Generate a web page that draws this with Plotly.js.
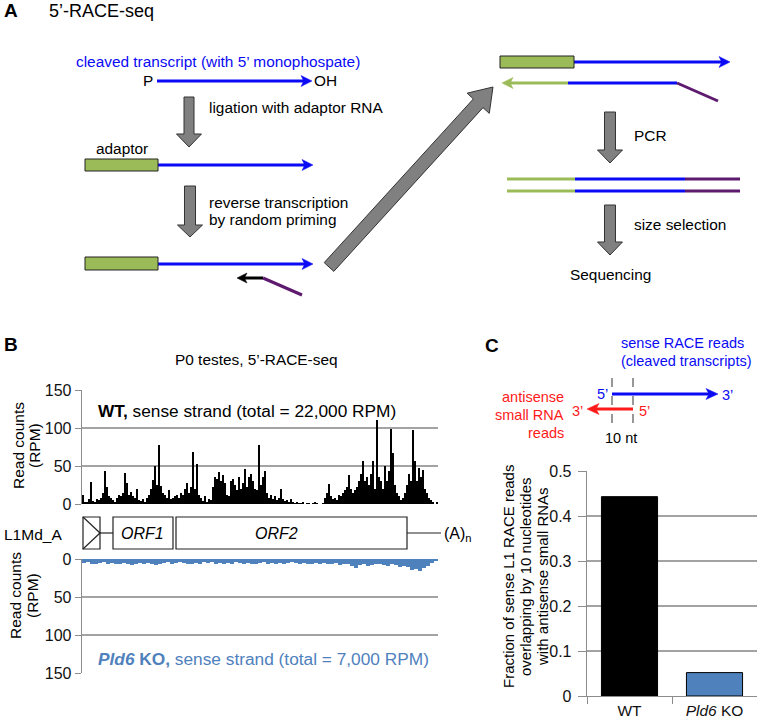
<!DOCTYPE html>
<html><head><meta charset="utf-8">
<script src="https://cdn.plot.ly/plotly-3.0.1.min.js"></script>
<style>html,body{margin:0;padding:0;background:#fff}#chart{width:761px;height:721px}</style>
</head><body><div id="chart"></div>
<script>
// ---- Panel B data: WT 5'-RACE read counts (RPM), sense strand, along L1Md_A ----
const wtCounts = [
 12, 3, 2, 6, 29, 4, 3, 7, 5, 8,
 15, 43, 23, 10, 8, 5, 3, 8, 12, 10,
 15, 41, 27, 12, 16, 10, 8, 20, 5, 4,
 6, 3, 8, 12, 20, 32, 50, 25, 77, 24,
 15, 12, 8, 18, 6, 8, 10, 12, 8, 15,
 12, 20, 28, 15, 22, 68, 20, 52, 12, 8,
 4, 10, 3, 6, 5, 22, 35, 33, 42, 30,
 38, 28, 12, 10, 30, 33, 25, 18, 35, 20,
 28, 46, 22, 36, 40, 30, 20, 18, 77, 25,
 35, 43, 15, 8, 12, 6, 10, 5, 8, 20,
 6, 4, 5, 3, 6, 2, 1, 3, 1, 1,
 2, 0, 1, 1, 0, 1, 2, 1, 0, 0,
 1, 8, 15, 26, 10, 6, 8, 5, 12, 10,
 15, 18, 22, 38, 20, 15, 18, 22, 30, 40,
 57, 30, 35, 25, 40, 57, 20, 111, 35, 30,
 20, 50, 30, 44, 99, 67, 25, 15, 10, 5,
 8, 15, 25, 40, 30, 97, 57, 30, 48, 35,
 45, 20, 15, 8, 5, 2, 0, 3
];
// ---- Panel B data: Pld6 KO read counts (RPM) ----
const koCounts = [
 5, 4, 6, 7, 5, 4, 6, 5, 7, 6,
 5, 7, 8, 6, 5, 6, 5, 7, 8, 6,
 5, 4, 6, 5, 4, 5, 6, 7, 5, 6,
 4, 5, 4, 6, 5, 7, 5, 6, 4, 5,
 6, 5, 7, 6, 5, 4, 6, 5, 7, 5,
 6, 5, 4, 5, 6, 5, 7, 6, 5, 6,
 5, 7, 6, 5, 8, 7, 6, 9, 12, 8,
 7, 9, 8, 6, 7, 8, 9, 7, 8, 10,
 9, 11, 14, 13, 16, 12, 9, 5, 2
];
const countTicks = [0, 50, 100, 150];
// ---- Panel C data ----
const fracCategories = ['WT', 'Pld6 KO'];
const fracTickText = ['WT', '<i>Pld6</i> KO'];
const fracValues = [0.443, 0.052];
const fracColors = ['#000000', '#4F81BD'];
const fracTicks = [0, 0.1, 0.2, 0.3, 0.4, 0.5];

const W = 761, H = 721;
const FONT = 'Arial, "Liberation Sans", sans-serif';
const px = x => x / W, py = y => 1 - y / H;
const shapes = [], ann = [];
const BLUE = '#0A0AF5', GREEN = '#9BBB59', PURPLE = '#5E1A6E', RED = '#FF1A1A', KOBLUE = '#4F81BD';
const FA = 15.4;

function line(x0, y0, x1, y1, color, width, dash) {
  shapes.push({type: 'line', xref: 'paper', yref: 'paper', x0: px(x0), y0: py(y0), x1: px(x1), y1: py(y1),
    line: {color: color, width: width, dash: dash || 'solid'}, layer: 'above'});
}
function poly(pts, fill, lc, lw) {
  const d = pts.map((p, i) => (i ? 'L' : 'M') + px(p[0]).toFixed(5) + ',' + py(p[1]).toFixed(5)).join(' ') + ' Z';
  shapes.push({type: 'path', xref: 'paper', yref: 'paper', path: d, fillcolor: fill,
    line: {color: lc || fill, width: lw === undefined ? 0.5 : lw}, layer: 'above'});
}
function rect(x0, y0, x1, y1, fill, lc, lw) {
  shapes.push({type: 'rect', xref: 'paper', yref: 'paper', x0: px(x0), y0: py(y0), x1: px(x1), y1: py(y1),
    fillcolor: fill, line: {color: lc, width: lw}, layer: 'above'});
}
function arrowH(x0, x1, y, color, w, hl, hw) {
  const dir = Math.sign(x1 - x0);
  line(x0, y, x1 - dir * hl * 0.7, y, color, w);
  poly([[x1, y], [x1 - dir * hl, y - hw / 2], [x1 - dir * hl * 0.75, y], [x1 - dir * hl, y + hw / 2]], color);
}
function blockArrow(x0, y0, x1, y1, sw, hw, hl) {
  const dx = x1 - x0, dy = y1 - y0, L = Math.hypot(dx, dy), ux = dx / L, uy = dy / L, nx = -uy, ny = ux;
  const bx = x1 - ux * hl, by = y1 - uy * hl;
  poly([[x0 + nx * sw / 2, y0 + ny * sw / 2], [bx + nx * sw / 2, by + ny * sw / 2], [bx + nx * hw / 2, by + ny * hw / 2],
        [x1, y1], [bx - nx * hw / 2, by - ny * hw / 2], [bx - nx * sw / 2, by - ny * sw / 2], [x0 - nx * sw / 2, y0 - ny * sw / 2]],
       '#808080', '#333333', 1);
}
function text(x, y, t, size, color, xanchor, extra) {
  ann.push(Object.assign({xref: 'paper', yref: 'paper', x: px(x), y: py(y), text: t, showarrow: false,
    xanchor: xanchor || 'left', yanchor: 'middle', font: {family: FONT, size: size, color: color || '#000'}}, extra || {}));
}

// ---------------- Panel A ----------------
text(2, 11, '<b>A</b>', 19, '#000', 'left');
text(47, 11, '5\u2019-RACE-seq', 18, '#000', 'left');
text(218, 62, 'cleaved transcript (with 5\u2019 monophospate)', FA, BLUE, 'center');
text(148, 81, 'P', FA, '#000', 'center');
arrowH(157, 312, 81, BLUE, 3, 11, 11);
text(312, 81, 'OH', FA, '#000', 'left');
blockArrow(189, 97, 189, 147, 10, 25, 13);
text(207, 108, 'ligation with adaptor RNA', FA, '#000', 'left');
text(122, 148, 'adaptor', FA, '#000', 'center');
arrowH(158, 313, 165, BLUE, 3, 11, 11);
rect(85, 159, 158, 171, GREEN, '#222', 1);
blockArrow(190, 186, 190, 237, 11, 25, 12);
text(207, 202, 'reverse transcription', FA, '#000', 'left');
text(207, 220, 'by random priming', FA, '#000', 'left');
arrowH(158, 313, 264, BLUE, 3, 11, 11);
rect(85, 257, 158, 270, GREEN, '#222', 1);
arrowH(263, 237, 278, '#000', 3, 10, 10);
line(263, 278, 302, 295, PURPLE, 3);
blockArrow(329, 267, 493, 87, 13, 30, 22);
// right column
arrowH(574, 730, 62, BLUE, 3, 11, 11);
rect(500, 56, 574, 68, GREEN, '#222', 1);
arrowH(568, 502, 83, GREEN, 3, 11, 11);
line(568, 83, 677, 83, BLUE, 3);
line(677, 83, 718, 101, PURPLE, 3);
blockArrow(610, 112, 610, 163, 11, 25, 13);
text(632, 135, 'PCR', FA, '#000', 'left');
[179, 191].forEach(function (y) {
  line(507, y, 575, y, GREEN, 3);
  line(575, y, 685, y, BLUE, 3);
  line(685, y, 740, y, PURPLE, 3);
});
blockArrow(610, 205, 610, 255, 11, 25, 13);
text(632, 225, 'size selection', FA, '#000', 'left');
text(610, 274, 'Sequencing', FA, '#000', 'center');

// ---------------- Panel B ----------------
text(2, 344, '<b>B</b>', 19, '#000', 'left');
text(256, 359, 'P0 testes, 5\u2019-RACE-seq', 15.4, '#000', 'center');
text(96, 411, '<b>WT,</b> sense strand (total = 22,000 RPM)', 17.3, '#000', 'left');
text(96, 659, '<b><i>Pld6</i> KO,</b> sense strand (total = 7,000 RPM)', 17.3, KOBLUE, 'left');
text(19, 446, 'Read counts', 15.5, '#000', 'center', {textangle: -90});
text(35, 446, '(RPM)', 15.5, '#000', 'center', {textangle: -90});
text(15, 596, 'Read counts', 15.5, '#000', 'center', {textangle: -90});
text(32, 596, '(RPM)', 15.5, '#000', 'center', {textangle: -90});
// gene map
text(2, 534, 'L1Md_A', 15.5, '#000', 'left');
rect(83, 517, 100, 549, 'rgba(0,0,0,0)', '#222', 1.2);
line(83, 517, 100, 533, '#222', 1.2);
line(100, 533, 83, 549, '#222', 1.2);
line(100, 533, 113, 533, '#222', 1.2);
rect(113, 517, 173, 549, 'rgba(0,0,0,0)', '#222', 1.2);
rect(176, 517, 407, 549, 'rgba(0,0,0,0)', '#222', 1.2);
line(407, 533, 441, 533, '#222', 1.2);
text(142, 533, '<i>ORF1</i>', 16, '#000', 'center');
text(276, 533, '<i>ORF2</i>', 16, '#000', 'center');
text(442, 534, '(A)<sub>n</sub>', 16, '#000', 'left');

// ---------------- Panel C ----------------
text(483, 345, '<b>C</b>', 19, '#000', 'left');
text(619, 343, 'sense RACE reads', 14.5, BLUE, 'left');
text(619, 361, '(cleaved transcripts)', 14.5, BLUE, 'left');
line(612, 378, 612, 430, '#777', 1.5, 'dash');
line(633, 378, 633, 430, '#777', 1.5, 'dash');
arrowH(612, 718, 394, BLUE, 3, 12, 11);
text(610, 394, '5\u2019', 14.5, BLUE, 'right');
text(720, 395, '3\u2019', 14.5, BLUE, 'left');
arrowH(633, 587, 409, RED, 3, 12, 11);
text(585, 411, '3\u2019', 14.5, RED, 'right');
text(637, 411, '5\u2019', 14.5, RED, 'left');
text(566, 397, 'antisense', 14.5, RED, 'right');
text(566, 415, 'small RNA', 14.5, RED, 'right');
text(566, 433, 'reads', 14.5, RED, 'right');
text(621, 438, '10 nt', 14.5, '#000', 'center');
text(508, 577, 'Fraction of sense L1 RACE reads', 15, '#000', 'center', {textangle: -90});
text(525, 577, 'overlapping by 10 nucleotides', 15, '#000', 'center', {textangle: -90});
text(542, 577, 'with antisense small RNAs', 15, '#000', 'center', {textangle: -90});

const GRID = '#a3a3a3', AXL = '#8c8c8c';
const traces = [
  {type: 'bar', x: wtCounts.map((_, i) => i), y: wtCounts, width: 1, marker: {color: '#000', line: {width: 0}},
   xaxis: 'x', yaxis: 'y', hoverinfo: 'skip'},
  {type: 'bar', x: koCounts.map((_, i) => i), y: koCounts, width: 1, marker: {color: KOBLUE, line: {width: 0}},
   xaxis: 'x2', yaxis: 'y2', hoverinfo: 'skip'},
  {type: 'bar', x: fracCategories, y: fracValues, width: 0.66, marker: {color: fracColors, line: {color: '#000', width: 1}},
   xaxis: 'x3', yaxis: 'y3', hoverinfo: 'skip'}
];
const yCommon = {showgrid: true, gridcolor: GRID, gridwidth: 1.3, showline: true, linecolor: AXL, linewidth: 1.3,
  ticks: 'outside', ticklen: 6, tickcolor: AXL, zeroline: false, fixedrange: true,
  tickfont: {family: FONT, size: 16, color: '#111'}};
const layout = {
  width: W, height: H, margin: {l: 0, r: 0, t: 0, b: 0}, paper_bgcolor: '#fff', plot_bgcolor: 'rgba(0,0,0,0)',
  showlegend: false, font: {family: FONT, size: 15, color: '#000'}, bargap: 0,
  xaxis: {domain: [px(82), px(438)], range: [-0.5, wtCounts.length - 0.5], visible: false, fixedrange: true, anchor: 'y'},
  yaxis: Object.assign({}, yCommon, {domain: [py(504), py(390)], range: [0, 150], tickvals: countTicks, anchor: 'x'}),
  xaxis2: {domain: [px(82), px(438)], range: [-0.5, koCounts.length - 0.5], visible: false, fixedrange: true, anchor: 'y2'},
  yaxis2: Object.assign({}, yCommon, {domain: [py(673), py(559)], range: [150, 0], tickvals: countTicks, anchor: 'x2'}),
  xaxis3: {domain: [px(587), px(757)], type: 'category', range: [-0.5, 1.5], tickvals: fracCategories, ticktext: fracTickText,
    tickson: 'boundaries', ticks: 'outside', ticklen: 7, tickcolor: AXL, showline: true, linecolor: AXL, linewidth: 1.3,
    showgrid: false, fixedrange: true, anchor: 'y3', tickfont: {family: FONT, size: 15.5, color: '#111'}},
  yaxis3: Object.assign({}, yCommon, {domain: [py(696), py(471)], range: [0, 0.5], tickvals: fracTicks, anchor: 'x3',
    ticklen: 8, ticklabelstandoff: 3, ticksuffix: '\u00a0\u00a0'}),
  shapes: shapes, annotations: ann
};
Plotly.newPlot('chart', traces, layout, {displayModeBar: false, staticPlot: true});
</script></body></html>
